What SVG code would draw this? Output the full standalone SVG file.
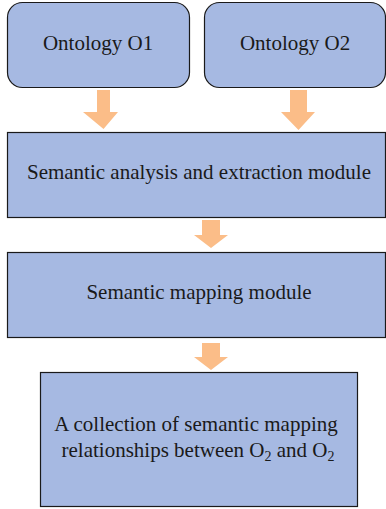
<svg xmlns="http://www.w3.org/2000/svg" width="386" height="509" viewBox="0 0 386 509">
<style>
.box{fill:#a6b9e2;stroke:#1a1a1a;stroke-width:1.2}
.t{font-family:"Liberation Serif","Times New Roman",serif;font-size:21px;fill:#1a1a1a;text-anchor:middle}
.arr{fill:#fbbd88}
</style>
<g id="connectors">
<polygon class="arr" points="97,90 110,90 110,112 118,112 103.5,129 83,112 97,112"/>
<polygon class="arr" points="290,90 307,90 307,112 315,112 298.5,130 281,112 290,112"/>
<polygon class="arr" points="202,220 220,220 220,235 228,235 211,248 194,235 202,235"/>
<polygon class="arr" points="202,343 220,343 220,357 228,357 211,370 194,357 202,357"/>
</g>
<g id="o1">
<rect class="box" x="7.5" y="2.5" width="182" height="85" rx="15"/>
<text class="t" x="98" y="50">Ontology O1</text>
</g>
<g id="o2">
<rect class="box" x="204.5" y="2.5" width="181" height="85" rx="15"/>
<text class="t" x="295" y="50">Ontology O2</text>
</g>
<g id="extract">
<rect class="box" x="7.5" y="132.5" width="378" height="85"/>
<text class="t" x="199" y="179">Semantic analysis and extraction module</text>
</g>
<g id="mapping">
<rect class="box" x="7.5" y="252.5" width="378" height="85"/>
<text class="t" x="199" y="299">Semantic mapping module</text>
</g>
<g id="collection">
<rect class="box" x="40.5" y="372.5" width="317" height="134"/>
<text class="t" x="196" y="431">A collection of semantic mapping</text>
<text class="t" x="198" y="457">relationships between O<tspan font-size="14" dy="4">2</tspan><tspan dy="-4"> and O</tspan><tspan font-size="14" dy="4">2</tspan></text>
</g>
</svg>
